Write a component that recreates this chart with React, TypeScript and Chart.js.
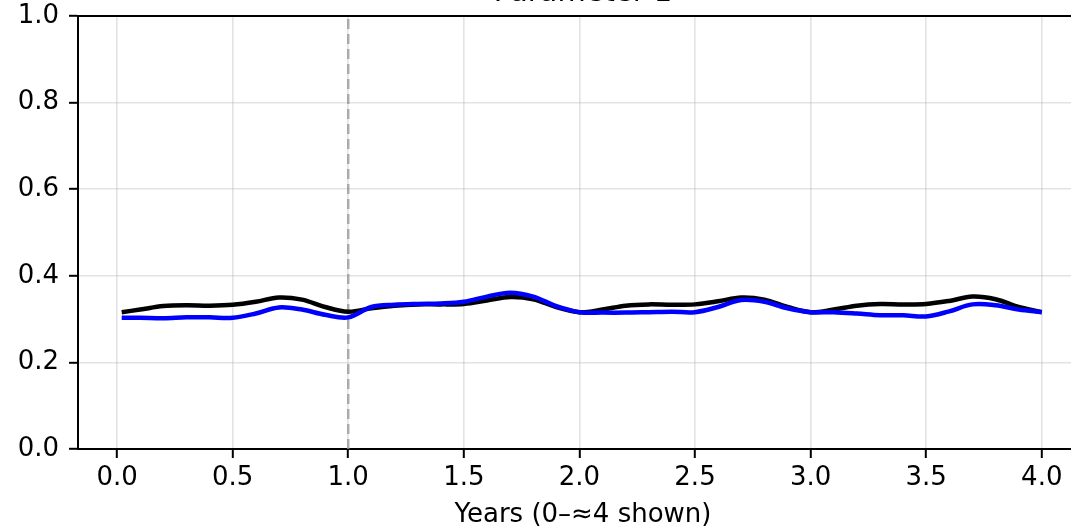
import React, { useEffect, useRef } from "react";
import { Chart, registerables } from "chart.js";

Chart.register(...registerables);

const chartTitle = "Parameter 1";
const xAxisTitle = "Years (0–≈4 shown)";

const years = [
  0.02, 0.1, 0.2, 0.3, 0.4, 0.5, 0.6, 0.7, 0.8, 0.9, 1.0,
  1.1, 1.2, 1.3, 1.4, 1.5, 1.6, 1.7, 1.8, 1.9, 2.0,
  2.1, 2.2, 2.3, 2.4, 2.5, 2.6, 2.7, 2.8, 2.9, 3.0,
  3.1, 3.2, 3.3, 3.4, 3.5, 3.6, 3.7, 3.8, 3.9, 4.0,
];

const blackSeries = [
  0.316, 0.322, 0.330, 0.332, 0.331, 0.333, 0.340, 0.350, 0.345, 0.328, 0.317,
  0.325, 0.331, 0.334, 0.334, 0.335, 0.343, 0.351, 0.346, 0.328, 0.316,
  0.322, 0.331, 0.334, 0.333, 0.334, 0.341, 0.350, 0.345, 0.328, 0.316,
  0.322, 0.331, 0.335, 0.334, 0.335, 0.342, 0.352, 0.346, 0.328, 0.316,
];

const blueSeries = [
  0.303, 0.303, 0.302, 0.304, 0.304, 0.303, 0.313, 0.327, 0.322, 0.310, 0.304,
  0.328, 0.333, 0.335, 0.336, 0.340, 0.352, 0.361, 0.352, 0.330, 0.316,
  0.315, 0.315, 0.316, 0.317, 0.316, 0.328, 0.344, 0.340, 0.325, 0.316,
  0.316, 0.313, 0.309, 0.309, 0.306, 0.318, 0.334, 0.332, 0.322, 0.316,
];

const xTickValues = [0, 0.5, 1.0, 1.5, 2.0, 2.5, 3.0, 3.5, 4.0];
const xRange = [-0.169, 4.2];
const yRange = [0, 1];
const yStep = 0.2;
const markerYear = 1.0;
const markerSpan = [0, 1];

export default function App() {
  const ref = useRef<HTMLCanvasElement | null>(null);

  useEffect(() => {
    if (!ref.current) return;
    Chart.defaults.font.family = "'DejaVu Sans', sans-serif";
    Chart.defaults.color = "#000";

    const framePlugin = {
      id: "frame",
      afterDraw(chart: any) {
        const { ctx, chartArea } = chart;
        ctx.save();
        ctx.strokeStyle = "#000";
        ctx.lineWidth = 2;
        ctx.beginPath();
        ctx.moveTo(chartArea.left - 1, chartArea.top);
        ctx.lineTo(chartArea.right, chartArea.top);
        ctx.lineTo(chartArea.right, chartArea.bottom);
        ctx.stroke();
        ctx.restore();
      },
    };

    const gridColor = "rgba(176,176,176,0.35)";

    const chart = new Chart(ref.current, {
      type: "line",
      data: {
        datasets: [
          {
            label: "blue",
            data: years.map((x, i) => ({ x, y: blueSeries[i] })),
            borderColor: "#0000ff",
            borderWidth: 4.5,
            pointRadius: 0,
            tension: 0.35,
            fill: false,
          },
          {
            label: "black",
            data: years.map((x, i) => ({ x, y: blackSeries[i] })),
            borderColor: "#000000",
            borderWidth: 4.5,
            pointRadius: 0,
            tension: 0.35,
            fill: false,
          },
          {
            label: "marker",
            data: markerSpan.map((y) => ({ x: markerYear, y })),
            borderColor: "rgba(150,150,150,0.75)",
            borderWidth: 2.5,
            borderDash: [10, 5],
            pointRadius: 0,
            fill: false,
          },
        ],
      },
      options: {
        responsive: false,
        animation: false,
        events: [],
        layout: { padding: { left: 0, right: 12, top: 0, bottom: 0 } },
        plugins: {
          legend: { display: false },
          tooltip: { enabled: false },
          title: {
            display: true,
            text: chartTitle,
            fullSize: false,
            color: "#000",
            font: { size: 29, weight: "normal" },
            padding: { top: 0, bottom: 5.2 },
          },
        },
        scales: {
          x: {
            type: "linear",
            min: xRange[0],
            max: xRange[1],
            afterBuildTicks(scale: any) {
              scale.ticks = xTickValues.map((v) => ({ value: v }));
            },
            afterFit(scale: any) {
              scale.height = 82;
            },
            ticks: {
              autoSkip: false,
              maxRotation: 0,
              minRotation: 0,
              padding: 5,
              color: "#000",
              font: { size: 26 },
              callback: (v: any) => Number(v).toFixed(1),
            },
            grid: {
              color: gridColor,
              lineWidth: 1.6,
              drawTicks: true,
              tickLength: 9,
              tickColor: "#000",
              tickWidth: 2,
            },
            border: { display: true, color: "#000", width: 2 },
            title: {
              display: true,
              text: xAxisTitle,
              color: "#000",
              font: { size: 26 },
              padding: { top: 0, bottom: 0 },
            },
          },
          y: {
            type: "linear",
            min: yRange[0],
            max: yRange[1],
            afterFit(scale: any) {
              scale.width = 78;
            },
            ticks: {
              stepSize: yStep,
              padding: 10,
              color: "#000",
              font: { size: 26 },
              callback: (v: any) => Number(v).toFixed(1),
            },
            grid: {
              color: gridColor,
              lineWidth: 1.6,
              drawTicks: true,
              tickLength: 9,
              tickColor: "#000",
              tickWidth: 2,
            },
            border: { display: true, color: "#000", width: 2 },
          },
        },
      },
      plugins: [framePlugin],
    } as any);

    return () => chart.destroy();
  }, []);

  return (
    <div
      style={{
        position: "fixed",
        left: 0,
        top: 0,
        width: 1071,
        height: 531,
        overflow: "hidden",
        background: "#fff",
      }}
    >
      <canvas
        ref={ref}
        width={1100}
        height={555}
        style={{ position: "absolute", left: 0, top: -24, width: 1100, height: 555 }}
      />
    </div>
  );
}
